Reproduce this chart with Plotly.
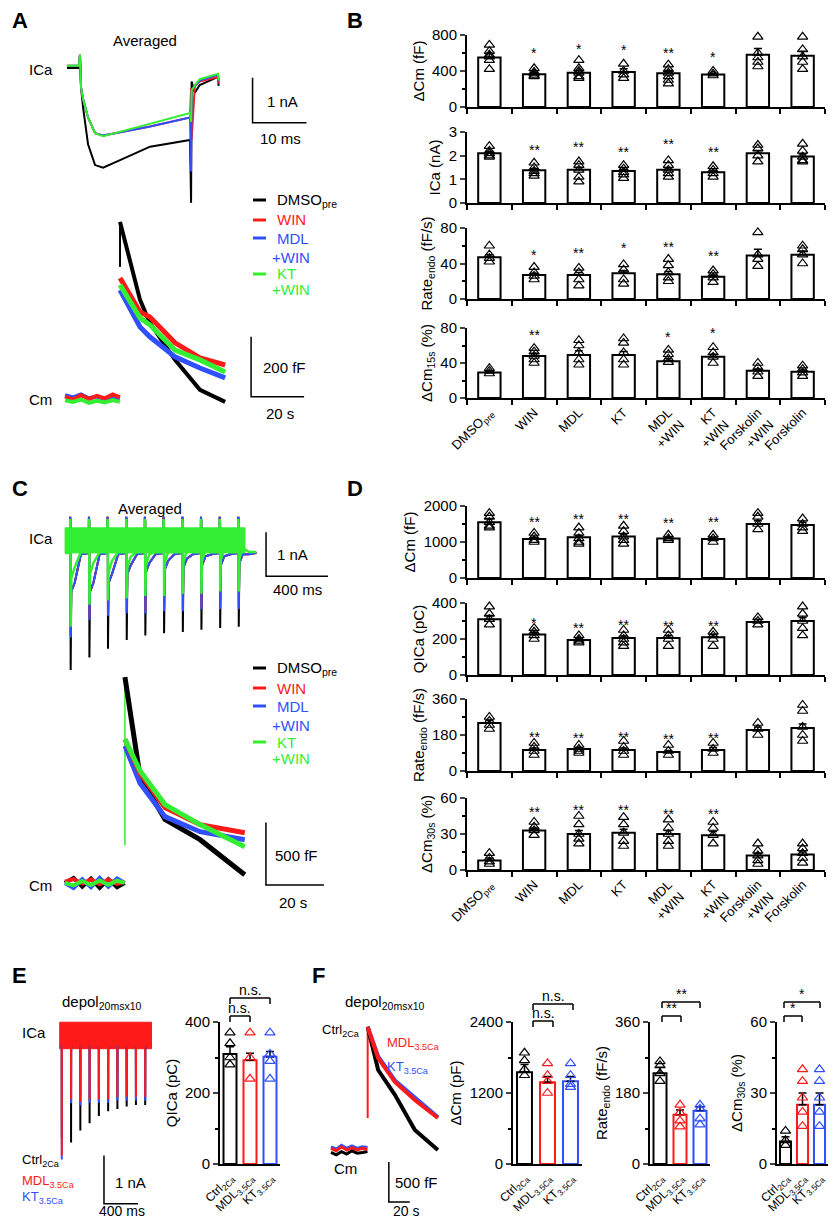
import plotly.graph_objects as go

W, H = 837, 1229
OFF = 8                      # page margin of the browser body
FW, FH = W - 2 * OFF, H - 2 * OFF
FONT = "Liberation Sans, Arial, sans-serif"
BLK, RED, BLU, GRN = "black", "#ff1a1a", "#3050ff", "#33ee33"

# ---------------- data: panel B ----------------
cats = ["DMSO<sub>pre</sub>", "WIN", "MDL", "KT", "MDL<br>+WIN", "KT<br>+WIN", "Forskolin<br>+WIN", "Forskolin"]

b_dcm_mean = [550, 365, 380, 390, 375, 360, 580, 570]
b_dcm_err = [45, 15, 25, 35, 30, 12, 70, 50]
b_dcm_pts = [[690, 620, 580, 560, 520, 420], [430, 390, 370, 350, 340], [520, 430, 400, 380, 340, 320],
             [480, 400, 360, 320], [470, 420, 380, 340, 300, 260], [400, 370, 350],
             [780, 600, 550, 500, 450], [780, 640, 560, 500, 420]]
b_dcm_star = ["", "*", "*", "*", "**", "*", "", ""]
b_dcm_star_y = [0, 595, 650, 630, 605, 560, 0, 0]

b_ica_mean = [2.1, 1.38, 1.4, 1.35, 1.4, 1.3, 2.1, 1.97]
b_ica_err = [0.08, 0.08, 0.1, 0.08, 0.08, 0.07, 0.12, 0.1]
b_ica_pts = [[2.4, 2.2, 2.1, 2.0, 1.95], [1.7, 1.5, 1.35, 1.25, 1.15], [1.75, 1.6, 1.4, 1.1, 0.9],
             [1.6, 1.45, 1.3, 1.2, 1.05], [1.8, 1.6, 1.4, 1.25, 1.1], [1.55, 1.4, 1.25, 1.1],
             [2.45, 2.3, 2.0, 1.75], [2.5, 2.2, 1.95, 1.8, 1.75]]
b_ica_star = ["", "**", "**", "**", "**", "**", "", ""]
b_ica_star_y = [0, 2.22, 2.35, 2.15, 2.5, 2.15, 0, 0]

b_rate_mean = [47, 27, 27, 29, 28, 25, 49, 50]
b_rate_err = [3, 2, 3, 3, 3, 2, 7, 4]
b_rate_pts = [[60, 50, 46, 42], [36, 30, 26, 22], [35, 30, 22, 15], [39, 33, 22, 17],
              [45, 38, 30, 24, 20], [32, 28, 24, 19], [75, 50, 45, 37], [60, 56, 50, 40]]
b_rate_star = ["", "*", "**", "*", "**", "**", "", ""]
b_rate_star_y = [0, 50, 52, 57, 59, 49, 0, 0]

b_p15_mean = [29, 48, 49, 49, 42, 47, 31, 30]
b_p15_err = [1.5, 3, 5, 4, 3, 3, 2, 2]
b_p15_pts = [[34, 31, 28], [57, 53, 48, 44, 40], [66, 60, 52, 44, 38], [68, 63, 52, 44, 38],
             [55, 50, 45, 41], [58, 52, 47, 40], [40, 35, 30, 25], [37, 33, 29, 25]]
b_p15_star = ["", "**", "**", "**", "*", "*", "", ""]
b_p15_star_y = [0, 72, 83, 84, 70, 74, 0, 0]

# ---------------- data: panel D ----------------
d_dcm_mean = [1550, 1080, 1130, 1150, 1100, 1080, 1500, 1470]
d_dcm_err = [100, 50, 60, 70, 40, 50, 90, 80]
d_dcm_pts = [[1800, 1700, 1550, 1450, 1400], [1250, 1150, 1050, 1000], [1400, 1250, 1100, 1000, 950],
             [1450, 1300, 1150, 1050, 950], [1200, 1100, 1050], [1200, 1100, 1000],
             [1800, 1700, 1500, 1350], [1650, 1500, 1400, 1300]]
d_dcm_star = ["", "**", "**", "**", "**", "**", "", ""]
d_dcm_star_y = [0, 1550, 1650, 1650, 1520, 1550, 0, 0]

d_q_mean = [310, 225, 195, 205, 205, 210, 295, 300]
d_q_err = [20, 12, 8, 12, 15, 15, 15, 20]
d_q_pts = [[380, 340, 310, 280], [260, 240, 220, 200], [220, 200, 190, 180], [250, 220, 200, 180, 160],
           [250, 220, 200, 160], [240, 220, 200, 160], [320, 300, 280], [380, 340, 300, 260, 220]]
d_q_star = ["", "*", "**", "**", "**", "**", "", ""]
d_q_star_y = [0, 290, 260, 280, 270, 275, 0, 0]

d_rate_mean = [240, 105, 110, 105, 95, 105, 205, 215]
d_rate_err = [12, 10, 8, 10, 8, 12, 15, 20]
d_rate_pts = [[270, 250, 230, 210], [140, 120, 100, 80], [130, 110, 100, 90], [150, 120, 100, 80],
              [130, 100, 80], [140, 110, 90], [240, 210, 180], [330, 300, 220, 180, 150]]
d_rate_star = ["", "**", "**", "**", "**", "**", "", ""]
d_rate_star_y = [0, 170, 165, 170, 160, 165, 0, 0]

d_p30_mean = [8, 33, 30, 31, 30, 29, 12, 13]
d_p30_err = [2, 2, 3, 3, 3, 3, 2, 2]
d_p30_pts = [[14, 10, 7, 5], [40, 36, 33, 29], [45, 38, 30, 26, 22], [44, 38, 31, 24, 20],
             [42, 35, 30, 24, 20], [40, 35, 29, 22], [22, 16, 12, 8, 5], [22, 18, 14, 10, 6]]
d_p30_star = ["", "**", "**", "**", "**", "**", "", ""]
d_p30_star_y = [0, 48, 50, 50, 47, 47, 0, 0]

# ---------------- data: panels E / F ----------------
ef_cats = ["Ctrl<sub>2Ca</sub>", "MDL<sub>3.5Ca</sub>", "KT<sub>3.5Ca</sub>"]
ef_cols = [BLK, RED, BLU]
e_q_mean = [310, 292, 302]
e_q_err = [20, 20, 15]
e_q_pts = [[370, 340, 300, 280], [370, 300, 240], [370, 310, 290, 240]]
f_dcm_mean = [1550, 1380, 1400]
f_dcm_err = [130, 100, 80]
f_dcm_pts = [[1880, 1750, 1600, 1500], [1700, 1500, 1400, 1200], [1700, 1500, 1350, 1300]]
f_rate_mean = [230, 125, 135]
f_rate_err = [15, 12, 10]
f_rate_pts = [[260, 250, 230, 210], [150, 130, 110, 95], [150, 140, 115, 100]]
f_p30_mean = [9.5, 25, 25]
f_p30_err = [2, 5, 5]
f_p30_pts = [[14, 10, 8], [40, 35, 28, 22, 16], [40, 35, 28, 22, 16]]

# ---------------- data: traces ----------------
# A, ICa (ms, nA)
a_ica_t = [0, 2.2, 2.4, 2.6, 3.0, 3.9, 5.2, 6.7, 8.9, 15.4, 22.8, 23.0, 23.1, 23.7, 24.6, 28.0, 28.1]
a_ica_k = [0, 0, 0.29, -0.44, -0.9, -1.7, -2.16, -2.22, -2.1, -1.75, -1.6, -3.0, -0.3, -0.55, -0.38, -0.2, -0.4]
a_ica_r = [0.05, 0.05, 0.29, -0.44, -0.7, -1.1, -1.45, -1.5, -1.45, -1.3, -1.1, -0.44, -1.6, -0.4, -0.3, -0.2, -0.35]
a_ica_b = [0.05, 0.05, 0.29, -0.44, -0.7, -1.1, -1.45, -1.5, -1.45, -1.3, -1.1, -2.3, -0.5, -0.4, -0.28, -0.15, -0.3]
a_ica_g = [0.05, 0.05, 0.29, -0.44, -0.7, -1.1, -1.45, -1.52, -1.45, -1.24, -1.0, -1.2, -0.5, -0.38, -0.25, -0.13, -0.28]
# A, Cm (s, fF)
a_cm_t = [0, 3, 6, 9, 12, 15, 18, 20.7]
a_cm_base_r = [18, 8, 22, 10, 20, 12, 25, 15]
a_cm_base_b = [22, 15, 25, 12, 18, 10, 15, 12]
a_cm_base_g = [5, 0, 8, -3, 4, -2, 6, 0]
a_cm_dt = [20.75, 28.3, 32, 41.5, 50.9, 60.4]
a_cm_k = [600, 340, 263, 140, 40, 0]
a_cm_r = [413, 300, 283, 197, 147, 123]
a_cm_g = [390, 280, 257, 173, 140, 100]
a_cm_b = [373, 250, 217, 150, 113, 80]

# C, ICa: pulse onsets (ms), tail peaks and post-pulse dips (nA)
c_pulse_t = [32, 153, 273, 394, 514, 635, 756, 876, 997, 1117]
c_tail_k = [-3.25, -2.9, -2.7, -2.5, -2.4, -2.35, -2.32, -2.27, -2.23, -2.2]
c_tail_c = [-2.4, -2.0, -1.9, -1.85, -1.85, -1.8, -1.8, -1.75, -1.75, -1.75]
c_tail_g = [-2.2, -1.7, -1.6, -1.55, -1.5, -1.5, -1.45, -1.45, -1.4, -1.4]
c_dip_k = [-1.4, -1.4, -1.2, -1.0, -0.95, -0.9, -0.85, -0.8, -0.8, -0.75]
c_dip_g = [-1.1, -1.0, -0.95, -0.85, -0.8, -0.75, -0.72, -0.7, -0.68, -0.65]
# C, Cm (s, fF)
c_cm_dt = [20.7, 25.9, 34.5, 46.6, 62]
c_cm_k = [1652, 855, 510, 347, 65]
c_cm_r = [1153, 880, 605, 468, 403]
c_cm_g = [1153, 900, 629, 468, 290]
c_cm_b = [1100, 800, 532, 411, 347]
c_cm_base_t = [0, 3, 6, 9, 12, 15, 18, 20.6]
c_cm_base = [0, 40, -30, 35, -40, 30, -35, 0]

# E, ICa: pulse onsets (ms) and tail peaks (nA)
e_pulse_t = [24, 133, 242, 351, 460, 569, 678, 787, 896, 1005]
e_tail_k = [-2.4, -2.5, -2.25, -2.1, -1.95, -1.85, -1.8, -1.75, -1.72, -1.72]
e_tail_r = [-2.77, -1.6, -1.65, -1.6, -1.6, -1.6, -1.55, -1.55, -1.55, -1.55]

# F, Cm (s, fF)
f_cm_base_t = [0, 5, 10, 15, 20, 25, 30, 34.8]
f_cm_base_k = [-30, -60, -20, -50, -10, -40, -30, -20]
f_cm_base_c = [40, 10, 60, 20, 50, 20, 40, 30]
f_cm_dt = [35, 45, 61, 80, 102]
f_cm_k = [1540, 1000, 690, 250, 0]
f_cm_r = [1540, 1150, 850, 625, 400]
f_cm_b = [1540, 1170, 870, 650, 410]

fig = go.Figure()
n_ax = [0]


def px_x(x):
    return (x - OFF) / FW


def px_y(y):
    return 1 - (y - OFF) / FH


def clamp(v):
    return min(1.0, max(0.0, v))


def new_axes(x0, x1, y0, y1):
    n_ax[0] += 1
    n = n_ax[0]
    s = "" if n == 1 else str(n)
    fig.layout["xaxis" + s] = dict(domain=[clamp(px_x(x0)), clamp(px_x(x1))], anchor="y" + s, automargin=False)
    fig.layout["yaxis" + s] = dict(domain=[clamp(px_y(y1)), clamp(px_y(y0))], anchor="x" + s, automargin=False)
    return "x" + s, "y" + s, "xaxis" + s, "yaxis" + s


def ann(x, y, text, size=13, color=BLK, xanchor="center"):
    fig.add_annotation(x=px_x(x), y=px_y(y), xref="paper", yref="paper", text=text, showarrow=False,
                       xanchor=xanchor, yanchor="middle", font=dict(size=size, color=color, family=FONT))


def line_px(x0, y0, x1, y1, color=BLK, width=2):
    fig.add_shape(type="line", xref="paper", yref="paper", x0=px_x(x0), x1=px_x(x1), y0=px_y(y0), y1=px_y(y1),
                  line=dict(color=color, width=width))


def bar_panel(px, labels, cols, mean, err, pts, yr, ytv, ymin, ytitle, bottom, stars=None, star_y=None,
              bw=0.5, tickfont=13, angle=-45):
    xa, ya, xn, yn = new_axes(*px)
    n = len(mean)
    xs = list(range(n))
    fig.add_trace(go.Bar(x=xs, y=mean, xaxis=xa, yaxis=ya, width=bw,
                         marker=dict(color="white", line=dict(color=cols, width=2)),
                         error_y=dict(type="data", array=err, arrayminus=[0] * n, color=BLK, thickness=1.5, width=4),
                         showlegend=False))
    for i in range(n):
        c = cols[i] if isinstance(cols, list) else cols
        fig.add_trace(go.Scatter(x=[i] * len(pts[i]), y=pts[i], xaxis=xa, yaxis=ya, mode="markers", cliponaxis=False,
                                 marker=dict(symbol="triangle-up-open", size=9, color=c, line=dict(width=1.2)),
                                 showlegend=False))
        if stars and stars[i]:
            fig.add_annotation(x=i, y=star_y[i], xref=xa, yref=ya, text=stars[i], showarrow=False,
                               font=dict(size=14, family=FONT))
    fig.layout[xn].update(range=[-0.5, n - 0.5], showline=True, linewidth=2, linecolor=BLK, showgrid=False,
                          zeroline=False, tickvals=xs, ticktext=labels if bottom else [" "] * n, ticks="",
                          tickangle=angle, tickfont=dict(size=tickfont, family=FONT),
                          minor=dict(tickvals=[i - 0.5 for i in range(n + 1)], ticks="outside", ticklen=5,
                                     tickwidth=2, tickcolor=BLK) if n > 3 else None)
    fig.layout[yn].update(range=yr, showline=True, linewidth=2, linecolor=BLK, showgrid=False, zeroline=False,
                          tickvals=ytv, ticks="outside", ticklen=5, tickwidth=2, tickfont=dict(size=15, family=FONT),
                          title=dict(text=ytitle, font=dict(size=15, family=FONT), standoff=4),
                          minor=dict(tickvals=ymin, ticks="outside", ticklen=3, tickwidth=2, tickcolor=BLK))
    return xa, ya


def trace_axes(px, xr, yr):
    xa, ya, xn, yn = new_axes(*px)
    fig.layout[xn].update(range=xr, visible=False)
    fig.layout[yn].update(range=yr, visible=False)
    return xa, ya


def tr(xa, ya, x, y, color, width=1.5):
    fig.add_trace(go.Scatter(x=x, y=y, xaxis=xa, yaxis=ya, mode="lines", line=dict(color=color, width=width),
                             showlegend=False, hoverinfo="skip"))


# ---------------- panel A ----------------
xa, ya = trace_axes((60, 320, 45, 215), [-1.3, 46.9], [-3.27, 0.51])
for y, c in [(a_ica_k, BLK), (a_ica_r, RED), (a_ica_b, BLU), (a_ica_g, GRN)]:
    tr(xa, ya, a_ica_t, y, c, 2)
tr(xa, ya, [34.4, 34.4, 44.4], [-0.22, -1.22, -1.22], BLK, 1.5)
ann(265, 102, "1 nA", 15, xanchor="left")
ann(280, 138, "10 ms", 15)

xa, ya = trace_axes((60, 320, 215, 410), [-1.9, 96.2], [-27, 623])
tr(xa, ya, a_cm_t, a_cm_base_b, BLU, 4)
tr(xa, ya, a_cm_t, a_cm_base_r, RED, 4)
tr(xa, ya, a_cm_t, a_cm_base_g, GRN, 4)
tr(xa, ya, [20.75, 20.75], [450, 600], BLK, 2)
tr(xa, ya, a_cm_dt, a_cm_k, BLK, 4)
tr(xa, ya, a_cm_dt, a_cm_b, BLU, 5)
tr(xa, ya, a_cm_dt, a_cm_r, RED, 5)
tr(xa, ya, a_cm_dt, a_cm_g, GRN, 5)
tr(xa, ya, [70.2, 70.2, 90.2], [217, 17, 17], BLK, 1.5)
ann(261, 368, "200 fF", 15, xanchor="left")
ann(280, 413, "20 s", 15)

ann(145, 40, "Averaged", 15)
ann(27, 70, "ICa", 15, xanchor="left")
ann(27, 400, "Cm", 15, xanchor="left")

# ---------------- panel C ----------------
xa, ya = trace_axes((55, 335, 505, 690), [-65, 1742], [-3.64, 0.57])
for tails, dips, c in [(c_tail_k, c_dip_k, BLK), (c_tail_c, c_dip_k, RED), ([v - 0.05 for v in c_tail_c], c_dip_k, BLU)]:
    xs, ys = [0], [-0.52]
    for t0, tip, dip in zip(c_pulse_t, tails, dips):
        xs += [t0, t0 + 1, t0 + 3, t0 + 4, t0 + 8, t0 + 30, t0 + 70, t0 + 118]
        ys += [-0.52, 0.3, 0.2, tip, dip, dip + 0.2, -0.55, -0.52]
    tr(xa, ya, xs, ys, c, 2)
fig.add_trace(go.Scatter(x=[0, 1161, 1161, 0, 0], y=[0.05, 0.05, -0.52, -0.52, 0.05], xaxis=xa, yaxis=ya,
                         mode="lines", fill="toself", fillcolor=GRN, line=dict(color=GRN, width=1),
                         showlegend=False, hoverinfo="skip"))
xs, ys = [0], [-0.52]
for t0, tip, dip in zip(c_pulse_t, c_tail_g, c_dip_g):
    xs += [t0, t0 + 1, t0 + 3, t0 + 4, t0 + 8, t0 + 30, t0 + 70, t0 + 118]
    ys += [-0.52, 0.25, 0.15, tip, dip, dip + 0.25, -0.5, -0.5]
tr(xa, ya, xs, ys, GRN, 2.5)
tr(xa, ya, [1297, 1297, 1697], [-0.05, -1.05, -1.05], BLK, 1.5)
ann(275, 554, "1 nA", 15, xanchor="left")
ann(297, 590, "400 ms", 15)

xa, ya = trace_axes((55, 335, 670, 895), [-3.4, 93.1], [-97, 1709])
tr(xa, ya, c_cm_base_t, c_cm_base, BLK, 4)
tr(xa, ya, c_cm_base_t, [-v for v in c_cm_base], BLU, 4)
tr(xa, ya, c_cm_base_t, [v * 0.5 + 10 for v in c_cm_base], RED, 4)
tr(xa, ya, c_cm_base_t, [-v * 0.5 for v in c_cm_base], GRN, 4)
tr(xa, ya, [20.7, 20.7], [300, 1652], GRN, 1.5)
tr(xa, ya, c_cm_dt, c_cm_k, BLK, 5)
tr(xa, ya, c_cm_dt, c_cm_b, BLU, 5)
tr(xa, ya, c_cm_dt, c_cm_r, RED, 5)
tr(xa, ya, c_cm_dt, c_cm_g, GRN, 5)
tr(xa, ya, [69.3, 69.3, 89.3], [484, -16, -16], BLK, 1.5)
ann(273, 855, "500 fF", 15, xanchor="left")
ann(293, 902, "20 s", 15)

ann(150, 508, "Averaged", 15)
ann(27, 538, "ICa", 15, xanchor="left")
ann(27, 885, "Cm", 15, xanchor="left")

# legends A and C
for y0 in (0, 468):
    for dy, c, lab in [(200, BLK, "DMSO<sub>pre</sub>"), (220, RED, "WIN"), (238, BLU, "MDL"),
                       (257, BLU, "+WIN"), (274, GRN, "KT"), (290, GRN, "+WIN")]:
        yy = y0 + dy
        if lab != "+WIN":
            line_px(253, yy, 266, yy, c, 3)
            ann(275, yy, lab, 15, color=c, xanchor="left")
        else:
            ann(270, yy, lab, 15, color=c, xanchor="left")

# ---------------- panel B ----------------
bx = (467, 825)
bar_panel((*bx, 35, 107), cats, BLK, b_dcm_mean, b_dcm_err, b_dcm_pts, [0, 800], [0, 400, 800], [200, 600],
          "ΔCm (fF)", False, b_dcm_star, b_dcm_star_y)
bar_panel((*bx, 132, 203), cats, BLK, b_ica_mean, b_ica_err, b_ica_pts, [0, 3], [0, 1, 2, 3], [],
          "ICa (nA)", False, b_ica_star, b_ica_star_y)
bar_panel((*bx, 228, 299), cats, BLK, b_rate_mean, b_rate_err, b_rate_pts, [0, 80], [0, 40, 80], [20, 60],
          "Rate<sub>endo</sub> (fF/s)", False, b_rate_star, b_rate_star_y)
bar_panel((*bx, 328, 398), cats, BLK, b_p15_mean, b_p15_err, b_p15_pts, [0, 80], [0, 40, 80], [20, 60],
          "ΔCm<sub>15s</sub> (%)", True, b_p15_star, b_p15_star_y)

# ---------------- panel D ----------------
bar_panel((*bx, 506, 578), cats, BLK, d_dcm_mean, d_dcm_err, d_dcm_pts, [0, 2000], [0, 1000, 2000], [500, 1500],
          "ΔCm (fF)", False, d_dcm_star, d_dcm_star_y)
bar_panel((*bx, 603, 675), cats, BLK, d_q_mean, d_q_err, d_q_pts, [0, 400], [0, 200, 400], [100, 300],
          "QICa (pC)", False, d_q_star, d_q_star_y)
bar_panel((*bx, 699, 771), cats, BLK, d_rate_mean, d_rate_err, d_rate_pts, [0, 360], [0, 180, 360], [90, 270],
          "Rate<sub>endo</sub> (fF/s)", False, d_rate_star, d_rate_star_y)
bar_panel((*bx, 798, 870), cats, BLK, d_p30_mean, d_p30_err, d_p30_pts, [0, 60], [0, 30, 60], [15, 45],
          "ΔCm<sub>30s</sub> (%)", True, d_p30_star, d_p30_star_y)

# ---------------- panel E ----------------
xa, ya = trace_axes((50, 160, 1015, 1210), [-94, 1200], [-3.9, 0.15])
fig.add_trace(go.Scatter(x=[20, 1100, 1100, 20, 20], y=[0, 0, -0.55, -0.55, 0], xaxis=xa, yaxis=ya, mode="lines",
                         fill="toself", fillcolor=RED, line=dict(color=RED, width=1), showlegend=False))
for tails, c in [(e_tail_k, BLK), ([v - 0.08 for v in e_tail_r], BLU), (e_tail_r, RED)]:
    xs, ys = [], []
    for t0, tip in zip(e_pulse_t, tails):
        xs += [t0 + 20, t0 + 21, t0 + 22, None]
        ys += [-0.5, tip, -0.5, None]
    tr(xa, ya, xs, ys, c, 2)
tr(xa, ya, [541, 541, 941], [-2.77, -3.77, -3.77], BLK, 1.5)
ann(113, 1182, "1 nA", 15, xanchor="left")
ann(122, 1211, "400 ms", 14)
ann(101, 1003, "depol<sub>20msx10</sub>", 15)
ann(20, 1032, "ICa", 15, xanchor="left")
ann(20, 1160, "Ctrl<sub>2Ca</sub>", 13, xanchor="left")
ann(20, 1181, "MDL<sub>3.5Ca</sub>", 13, color=RED, xanchor="left")
ann(20, 1197, "KT<sub>3.5Ca</sub>", 13, color=BLU, xanchor="left")

bar_panel((220, 280, 1022, 1164), ef_cats, ef_cols, e_q_mean, e_q_err, e_q_pts, [0, 400], [0, 200, 400],
          [100, 300], "QICa (pC)", True, bw=0.65, tickfont=12)

# ---------------- panel F ----------------
xa, ya = trace_axes((325, 440, 1020, 1210), [-5.7, 104], [-750, 1625])
tr(xa, ya, f_cm_base_t, f_cm_base_k, BLK, 3)
tr(xa, ya, f_cm_base_t, f_cm_base_c, BLU, 3)
tr(xa, ya, f_cm_base_t, [v - 20 for v in f_cm_base_c], RED, 3)
tr(xa, ya, [35, 35], [400, 1540], RED, 2)
tr(xa, ya, f_cm_dt, f_cm_k, BLK, 4)
tr(xa, ya, f_cm_dt, f_cm_b, BLU, 4)
tr(xa, ya, f_cm_dt, f_cm_r, RED, 4)
tr(xa, ya, [55.2, 55.2, 75.2], [-150, -650, -650], BLK, 1.5)
ann(393, 1182, "500 fF", 15, xanchor="left")
ann(406, 1211, "20 s", 14)
ann(384, 1003, "depol<sub>20msx10</sub>", 15)
ann(320, 1030, "Ctrl<sub>2Ca</sub>", 13, xanchor="left")
ann(385, 1043, "MDL<sub>3.5Ca</sub>", 13, color=RED, xanchor="left")
ann(385, 1067, "KT<sub>3.5Ca</sub>", 13, color=BLU, xanchor="left")
ann(332, 1168, "Cm", 15, xanchor="left")

bar_panel((513, 582, 1022, 1164), ef_cats, ef_cols, f_dcm_mean, f_dcm_err, f_dcm_pts, [0, 2400], [0, 1200, 2400],
          [600, 1800], "ΔCm (pF)", True, bw=0.65, tickfont=12)
bar_panel((650, 710, 1022, 1164), ef_cats, ef_cols, f_rate_mean, f_rate_err, f_rate_pts, [0, 360], [0, 180, 360],
          [90, 270], "Rate<sub>endo</sub> (fF/s)", True, bw=0.65, tickfont=12)
bar_panel((777, 828, 1022, 1164), ef_cats, ef_cols, f_p30_mean, f_p30_err, f_p30_pts, [0, 60], [0, 30, 60],
          [15, 45], "ΔCm<sub>30s</sub> (%)", True, bw=0.65, tickfont=12)


def bracket(x0, x1, y, lab):
    line_px(x0, y + 6, x0, y, BLK, 1.5)
    line_px(x0, y, x1, y, BLK, 1.5)
    line_px(x1, y, x1, y + 6, BLK, 1.5)
    ann((x0 + x1) / 2, y - 8, lab, 14)


bracket(230, 270, 998, "n.s.")
bracket(230, 250, 1016, "n.s.")
bracket(533, 573, 1004, "n.s.")
bracket(533, 553, 1021, "n.s.")
bracket(662, 700, 1002, "**")
bracket(662, 681, 1016, "**")
bracket(784, 820, 1002, "*")
bracket(784, 802, 1016, "*")

# panel letters
for x, y, lab in [(10, 21, "A"), (345, 21, "B"), (10, 488, "C"), (345, 488, "D"), (10, 975, "E"), (310, 975, "F")]:
    ann(x, y, "<b>%s</b>" % lab, 22, xanchor="left")

fig.update_layout(width=FW, height=FH, margin=dict(l=0, r=0, t=0, b=0), plot_bgcolor="white",
                  paper_bgcolor="white", font=dict(family=FONT, color=BLK), showlegend=False)
fig.write_html("out.html")
